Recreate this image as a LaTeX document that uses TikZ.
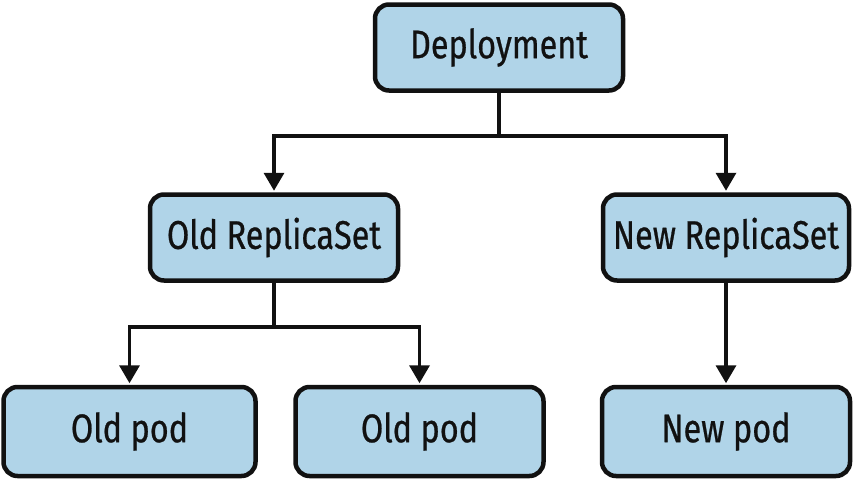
\documentclass[tikz,border=0pt]{standalone}
\usepackage{fontspec}
\setmainfont{Fira Sans}[FakeStretch=0.81,FakeBold=0.6]
\usetikzlibrary{arrows.meta}
\definecolor{boxfill}{RGB}{176,212,232}
\definecolor{ink}{RGB}{17,17,17}
\begin{document}
\begin{tikzpicture}[x=1pt,y=-1pt,
  box/.style={draw=ink,line width=4.5pt,fill=boxfill,rounded corners=14pt,
    minimum height=86pt,inner sep=0pt,font=\fontsize{40}{42}\selectfont,text=ink},
  arr/.style={draw=ink,line width=3.5pt,-{Triangle[width=20pt,length=18pt]},shorten >=1.5pt}]
\useasboundingbox (0,0) rectangle (857,482);
\node[box,minimum width=248pt] (dep) at (499,47.5) {Deployment};
\node[box,minimum width=248pt] (ors) at (274,237.5) {Old ReplicaSet};
\node[box,minimum width=246pt] (nrs) at (726,237.5) {New ReplicaSet};
\node[box,minimum width=252pt,minimum height=89pt] (op1) at (129.5,431.5) {Old pod};
\node[box,minimum width=248pt,minimum height=89pt] (op2) at (419.5,431.5) {Old pod};
\node[box,minimum width=248pt,minimum height=89pt] (np) at (726,431.5) {New pod};
\coordinate (j1) at (499,136);
\coordinate (j2) at (275,327);
\draw[ink,line width=3.5pt] (dep.south) -- (j1);
\draw[arr] (j1) -| (ors.north);
\draw[arr] (j1) -| (nrs.north);
\draw[ink,line width=3.5pt] (ors.south) -- (ors.south |- j2);
\draw[arr] (j2) -| (op1.north);
\draw[arr] (j2) -| (op2.north);
\draw[arr] (nrs.south) -- (np.north);
\end{tikzpicture}
\end{document}
